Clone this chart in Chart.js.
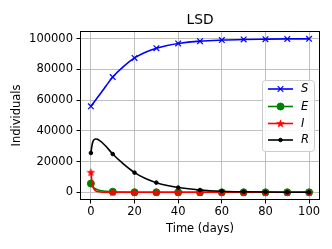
<!DOCTYPE html>
<html><head><meta charset="utf-8">
<script src="https://cdn.jsdelivr.net/npm/chart.js@4/dist/chart.umd.min.js"></script>
<style>html,body{margin:0;padding:0;background:#fff}#wrap{width:332px;height:249px}</style>
</head><body><div id="wrap"><canvas id="c" width="332" height="249"></canvas></div>
<script>
const titleText = "LSD";
const xLabel = "Time (days)";
const yLabel = "Individuals";
const xTicks = [0,20,40,60,80,100];
const yTicks = [0,20000,40000,60000,80000,100000];
const seriesNames = ["S","E","I","R"];

const daysS = [0,2,5,7,10,15,20,25,30,35,40,50,60,70,80,90,100];
const valS  = [56000,59800,65500,69400,75000,82000,87500,91200,93800,95600,96900,98400,99100,99500,99700,99850,99900];

const daysE = [0,1,2,3,5,7,10,15,20,30,40,50,60,70,80,90,100];
const valE  = [5700,3500,2300,1600,1000,700,400,150,60,10,0,0,0,0,0,0,0];

const daysI = [0,0.5,1,2,3,5,7,10,20,30,40,50,60,70,80,90,100];
const valI  = [13000,7000,3500,1200,500,120,40,10,0,0,0,0,0,0,0,0,0];

const daysR = [0,0.5,1,2,3,4,5,7,10,15,20,25,30,35,40,50,60,70,80,90,100];
const valR  = [25600,30500,33300,34700,34500,33700,32600,29800,24900,18300,12800,9000,6300,4400,3100,1500,700,330,160,80,40];

const FONT = "'DejaVu Sans', sans-serif";
const FS = 11.5;

function pts(d, v){ return d.map((x,i)=>({x:x, y:v[i]})); }

// star marker
const star = document.createElement('canvas');
star.width = 9; star.height = 9;
(function(){
  const g = star.getContext('2d');
  g.fillStyle = '#ff0000'; g.strokeStyle = '#ff0000'; g.lineWidth = 0.6;
  g.beginPath();
  const cx=4.5, cy=4.8, ro=3.9, ri=1.6;
  for (let k=0;k<10;k++){
    const r = k%2===0?ro:ri;
    const a = -Math.PI/2 + k*Math.PI/5;
    const px = cx + r*Math.cos(a), py = cy + r*Math.sin(a);
    if(k===0) g.moveTo(px,py); else g.lineTo(px,py);
  }
  g.closePath(); g.fill(); g.stroke();
})();

const styles = [
  {color:'#0000ff', pointStyle:'crossRot', radius:4, pointBorderWidth:1.2, fill:'#0000ff'},
  {color:'#008000', pointStyle:'circle', radius:3.5, pointBorderWidth:1, fill:'#008000'},
  {color:'#ff0000', pointStyle:star, radius:4, pointBorderWidth:1, fill:'#ff0000'},
  {color:'#000000', pointStyle:'circle', radius:1.8, pointBorderWidth:1, fill:'#000000'}
];
const allData = [pts(daysS,valS), pts(daysE,valE), pts(daysI,valI), pts(daysR,valR)];

const datasets = allData.map((d,i)=>({
  label: seriesNames[i],
  data: d,
  borderColor: styles[i].color,
  backgroundColor: styles[i].fill,
  pointBorderColor: styles[i].color,
  pointBackgroundColor: styles[i].fill,
  borderWidth: 1.6,
  pointStyle: styles[i].pointStyle,
  pointRadius: (ctx)=> (ctx.raw && ctx.raw.x % 10 === 0) ? styles[i].radius : 0,
  pointHoverRadius: 0,
  pointBorderWidth: styles[i].pointBorderWidth,
  cubicInterpolationMode: 'monotone',
  order: 3 - i,
  clip: false
}));

const decor = {
  id:'decor',
  afterDraw(chart){
    const g = chart.ctx, a = chart.chartArea;
    g.save();
    g.strokeStyle = '#000'; g.lineWidth = 1;
    g.strokeRect(Math.round(a.left)+0.5, Math.round(a.top)+0.5, Math.round(a.right-a.left)-1, Math.round(a.bottom-a.top)-1);
    // title
    g.fillStyle = '#000';
    g.font = (FS*1.2)+"px "+FONT;
    g.textAlign='center'; g.textBaseline='middle';
    g.fillText(titleText, (a.left+a.right)/2, 20);
    // axis labels
    g.font = FS+"px "+FONT;
    g.fillText(xLabel, (a.left+a.right)/2, 229);
    g.save();
    g.translate(17, (a.top+a.bottom)/2);
    g.rotate(-Math.PI/2);
    g.fillText(yLabel, 0, 0);
    g.restore();
    // legend
    const lx=262.5, ly=80.5, lw=52, lh=71, r=3;
    g.beginPath();
    g.moveTo(lx+r,ly); g.lineTo(lx+lw-r,ly); g.quadraticCurveTo(lx+lw,ly,lx+lw,ly+r);
    g.lineTo(lx+lw,ly+lh-r); g.quadraticCurveTo(lx+lw,ly+lh,lx+lw-r,ly+lh);
    g.lineTo(lx+r,ly+lh); g.quadraticCurveTo(lx,ly+lh,lx,ly+lh-r);
    g.lineTo(lx,ly+r); g.quadraticCurveTo(lx,ly,lx+r,ly); g.closePath();
    g.fillStyle='rgba(255,255,255,0.85)'; g.fill();
    g.strokeStyle='#cccccc'; g.lineWidth=1; g.stroke();
    const rows=[89,106.5,123.5,140];
    seriesNames.forEach((n,i)=>{
      const y=rows[i], s=styles[i];
      g.strokeStyle=s.color; g.lineWidth=1.6;
      g.beginPath(); g.moveTo(268,y); g.lineTo(293,y); g.stroke();
      g.fillStyle=s.fill; g.strokeStyle=s.color; g.lineWidth=s.pointBorderWidth;
      Chart.helpers.drawPoint(g, {pointStyle:s.pointStyle, radius:s.radius, borderWidth:s.pointBorderWidth, rotation:0}, 280.5, y);
      g.font = "italic "+FS+"px "+FONT;
      g.textAlign='left'; g.textBaseline='middle';
      g.fillStyle='#000';
      g.fillText(n, 301, y+0.5);
    });
    g.restore();
  }
};

new Chart(document.getElementById('c'), {
  type:'line',
  data:{datasets},
  options:{
    responsive:false, animation:false, devicePixelRatio:1,
    layout:{padding:{left:0,right:12,top:31,bottom:0}},
    plugins:{legend:{display:false}, tooltip:{enabled:false}, title:{display:false}},
    scales:{
      x:{type:'linear', min:-5, max:105,
        afterBuildTicks:(s)=>{ s.ticks = xTicks.map(v=>({value:v})); },
        afterFit:(s)=>{ s.height = 49; },
        grid:{color:'#b0b0b0', lineWidth:0.8, tickColor:'#000', tickLength:3.5, tickWidth:1},
        border:{display:false},
        ticks:{color:'#000', font:{family:FONT, size:FS}, padding:2, maxRotation:0, callback:(v)=>String(v)}
      },
      y:{type:'linear', min:-5000, max:105000,
        afterBuildTicks:(s)=>{ s.ticks = yTicks.map(v=>({value:v})); },
        afterFit:(s)=>{ s.width = 80; },
        grid:{color:'#b0b0b0', lineWidth:0.8, tickColor:'#000', tickLength:3.5, tickWidth:1},
        border:{display:false},
        ticks:{color:'#000', font:{family:FONT, size:FS}, padding:3.5, callback:(v)=>String(v)}
      }
    }
  },
  plugins:[decor]
});
</script></body></html>
